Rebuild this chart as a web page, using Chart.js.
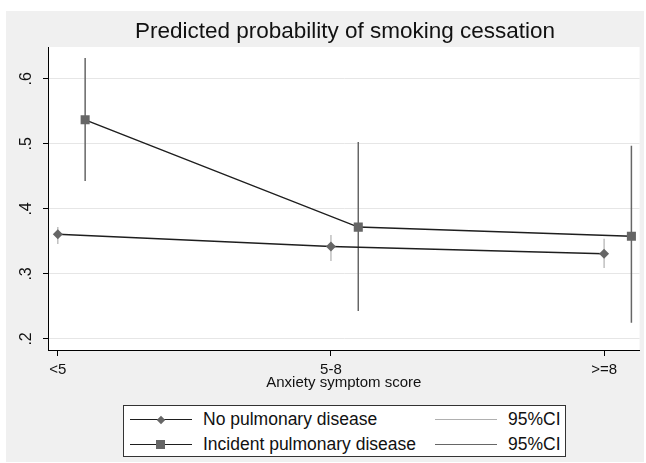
<!DOCTYPE html>
<html lang="en">
<head>
  <meta charset="UTF-8">
  <title>Predicted probability of smoking cessation</title>
  <style>
    body {
      margin: 0;
      background: white;
      font-family: 'Liberation Sans', Arial, sans-serif;
    }
    .wrap {
      position: relative;
      width: 646px;
      height: 463px;
    }
    .panel {
      position: absolute;
      left: 6px;
      top: 11px;
      width: 638px;
      height: 451px;
      background: #f0f0f0;
    }
    canvas {
      position: absolute;
      left: 0;
      top: 0;
    }
    .title {
      position: absolute;
      left: 48px;
      width: 594px;
      top: 19px;
      line-height: 24px;
      text-align: center;
      font-size: 22.5px;
      color: #111;
    }
    .legend {
      position: absolute;
      left: 123px;
      top: 405px;
      width: 443px;
      height: 52px;
      box-sizing: border-box;
      border: 1.5px solid #333;
      background: white;
      font-size: 17.5px;
      color: #111;
    }
    .item {
      position: absolute;
      height: 20px;
    }
    .sample {
      position: absolute;
      left: 0;
      top: 10px;
      width: 62px;
    }
    .marker {
      position: absolute;
      background: #666;
    }
    .label {
      position: absolute;
      left: 73px;
      top: 0;
      line-height: 20px;
      white-space: nowrap;
    }
  </style>
  <script src="https://cdn.jsdelivr.net/npm/chart.js"></script>
</head>
<body>
  <div class="wrap">
    <div class="panel"></div>
    <canvas id="chart" width="646" height="463"></canvas>
    <div class="title">Predicted probability of smoking cessation</div>
    <div class="legend" id="legend"></div>
  </div>

  <script>
    // categories and values
    const xLabels = ['<5', '5-8', '>=8'];
    const yTicks = [0.2, 0.3, 0.4, 0.5, 0.6];

    const noPulm = [0.361, 0.342, 0.331];
    const noPulmLo = [0.346, 0.320, 0.309];
    const noPulmHi = [0.372, 0.360, 0.354];

    const incPulm = [0.537, 0.372, 0.358];
    const incPulmLo = [0.443, 0.243, 0.225];
    const incPulmHi = [0.632, 0.503, 0.497];

    const seriesNames = ['No pulmonary disease', 'Incident pulmonary disease'];
    const ciName = '95%CI';

    const shift = 0.1; // second series drawn a bit to the right

    const points = (vals, dx) => vals.map((v, i) => ({ x: i + dx, y: v }));
    const ciSegments = (lo, hi, dx) => {
      const out = [];
      lo.forEach((v, i) => {
        out.push({ x: i + dx, y: v });
        out.push({ x: i + dx, y: hi[i] });
        out.push({ x: i + dx, y: null });
      });
      return out;
    };

    const plotBg = {
      id: 'plotBg',
      beforeDraw(chart) {
        const { ctx, chartArea: a } = chart;
        ctx.save();
        ctx.fillStyle = 'white';
        ctx.fillRect(a.left, a.top, a.right - a.left, a.bottom - a.top);
        ctx.restore();
      }
    };

    const font = { family: "'Liberation Sans', Arial, sans-serif", size: 15 };

    new Chart(document.getElementById('chart'), {
      type: 'scatter',
      data: {
        datasets: [
          {
            label: seriesNames[0],
            data: points(noPulm, 0),
            showLine: true,
            borderColor: '#1e1e1e',
            borderWidth: 1.5,
            pointStyle: 'rectRot',
            pointRadius: 5,
            pointBackgroundColor: '#666',
            pointBorderColor: '#666',
            pointBorderWidth: 0
          },
          {
            label: seriesNames[1],
            data: points(incPulm, shift),
            showLine: true,
            borderColor: '#1e1e1e',
            borderWidth: 1.5,
            pointStyle: 'rect',
            pointRadius: 6.4,
            pointBackgroundColor: '#666',
            pointBorderColor: '#666',
            pointBorderWidth: 0
          },
          {
            label: ciName,
            data: ciSegments(noPulmLo, noPulmHi, 0),
            showLine: true,
            spanGaps: false,
            borderColor: '#b0b0b0',
            borderWidth: 1.2,
            pointRadius: 0
          },
          {
            label: ciName,
            data: ciSegments(incPulmLo, incPulmHi, shift),
            showLine: true,
            spanGaps: false,
            borderColor: '#666',
            borderWidth: 1.5,
            pointRadius: 0
          }
        ]
      },
      options: {
        responsive: false,
        animation: false,
        layout: { padding: { top: 47, right: 4, bottom: 68, left: 0 } },
        scales: {
          x: {
            type: 'linear',
            min: -0.036,
            max: 2.13,
            afterBuildTicks: (s) => { s.ticks = xLabels.map((_, i) => ({ value: i })); },
            afterFit: (s) => { s.height = 45; },
            grid: { drawOnChartArea: false, tickLength: 6, color: '#000' },
            border: { color: '#000', width: 1 },
            ticks: {
              padding: 5,
              color: '#111',
              font: font,
              maxRotation: 0,
              callback: (v) => xLabels[v]
            },
            title: {
              display: true,
              text: 'Anxiety symptom score',
              color: '#111',
              font: font,
              padding: { top: 0, bottom: 3 }
            }
          },
          y: {
            min: 0.183,
            max: 0.649,
            afterBuildTicks: (s) => { s.ticks = yTicks.map(v => ({ value: v })); },
            afterFit: (s) => { s.width = 48; },
            grid: { color: '#e6e6e6', tickColor: '#000', tickLength: 5 },
            border: { color: '#000', width: 1 },
            ticks: {
              autoSkip: false,
              minRotation: 90,
              maxRotation: 90,
              crossAlign: 'center',
              padding: 10,
              color: '#111',
              font: { family: font.family, size: 16 },
              callback: (v) => String(Math.round(v * 10) / 10).replace(/^0/, '')
            }
          }
        },
        plugins: {
          legend: { display: false },
          tooltip: { enabled: false }
        }
      },
      plugins: [plotBg]
    });

    // legend, two columns like the original
    const legendRows = [
      { name: seriesNames[0], marker: 'diamond', ciColor: '#b0b0b0', ciWidth: 1 },
      { name: seriesNames[1], marker: 'square', ciColor: '#666', ciWidth: 1.5 }
    ];
    const legend = document.getElementById('legend');
    legendRows.forEach((row, r) => {
      const top = 3 + r * 25;

      const left = document.createElement('div');
      left.className = 'item';
      left.style.left = '6px';
      left.style.top = top + 'px';
      left.innerHTML =
        '<div class="sample" style="border-top:1.5px solid #1e1e1e"></div>' +
        '<div class="label">' + row.name + '</div>';
      const m = document.createElement('div');
      m.className = 'marker';
      if (row.marker === 'square') {
        m.style.cssText += 'left:26px;top:6px;width:9px;height:9px;';
      } else {
        m.style.cssText += 'left:27.5px;top:7.5px;width:6px;height:6px;transform:rotate(45deg);';
      }
      left.appendChild(m);
      legend.appendChild(left);

      const right = document.createElement('div');
      right.className = 'item';
      right.style.left = '311px';
      right.style.top = top + 'px';
      right.innerHTML =
        '<div class="sample" style="border-top:' + row.ciWidth + 'px solid ' + row.ciColor + '"></div>' +
        '<div class="label">' + ciName + '</div>';
      legend.appendChild(right);
    });
  </script>
</body>
</html>
